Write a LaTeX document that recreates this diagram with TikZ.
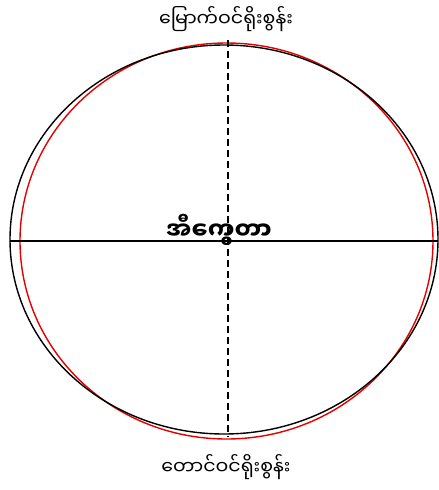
\documentclass[tikz,border=0pt]{standalone}
\usepackage{fontspec}
\newfontfamily\myan[Script=Myanmar]{Noto Sans Myanmar UI}
\begin{document}
\begin{tikzpicture}[x=1pt,y=-1pt,
  lbl/.style={font=\myan\fontsize{19}{22}\selectfont, inner sep=0pt},
  eqlbl/.style={font=\myan\bfseries\fontsize{24}{28}\selectfont, inner sep=0pt},
  blk/.style={line width=1.4pt, black},
  redc/.style={line width=1.4pt, red!90!black}]
\useasboundingbox (0,0) rectangle (439,490);
\draw[redc] (226.5,241) ellipse [x radius=206.5, y radius=198];
\draw[blk] (224,239.5) ellipse [x radius=214, y radius=194.5];
\coordinate (W) at (10,241);
\coordinate (E) at (438,241);
\coordinate (N) at (228,40);
\coordinate (S) at (228,437);
\draw[blk] (W) -- (E);
\draw[blk, dashed, dash pattern=on 7pt off 4pt] (N) -- (S);
\node[lbl] (north) at (226,19) {မြောက်ဝင်ရိုးစွန်း};
\node[lbl] (south) at (226,467) {တောင်ဝင်ရိုးစွန်း};
\node[eqlbl] (eq) at (219,230) {အီကွေတာ};
\end{tikzpicture}
\end{document}
